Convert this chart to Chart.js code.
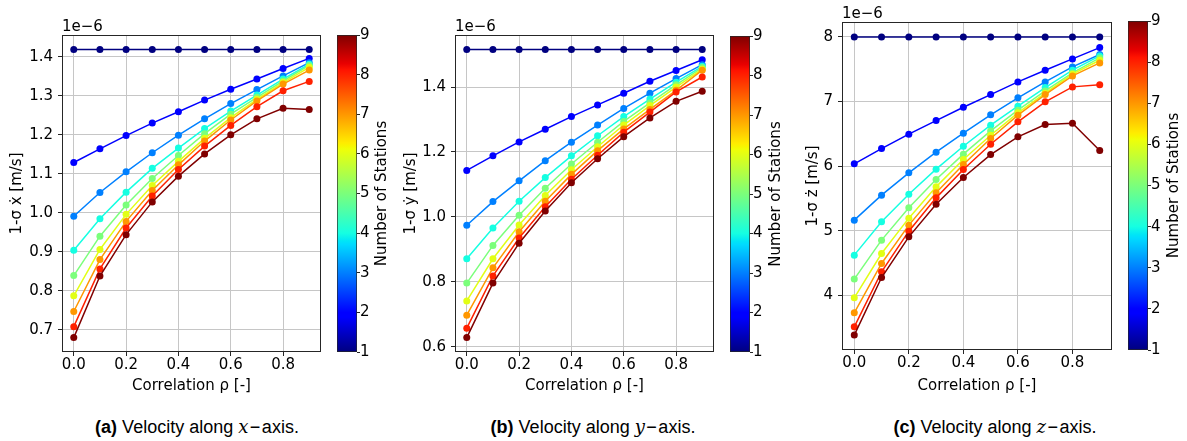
<!DOCTYPE html>
<html>
<head>
<meta charset="utf-8">
<title>1-sigma velocity vs correlation</title>
<script src="https://cdn.jsdelivr.net/npm/chart.js@4.4.1/dist/chart.umd.min.js"></script>
<style>
    html, body { margin: 0; padding: 0; background: #fff; }
    #page { position: relative; width: 1187px; height: 441px; overflow: hidden; }
    #page canvas { position: absolute; top: 0; }
    .caption {
        position: absolute;
        top: 416px;
        transform: translateX(-50%);
        white-space: nowrap;
        font-family: 'Liberation Sans', Arial, sans-serif;
        font-size: 18px;
        color: #000;
    }
    .caption .m { font-family: 'DejaVu Serif', 'Liberation Serif', serif; font-style: italic; }
</style>
</head>
<body>
<div id="page">
    <canvas id="chartX" width="330" height="400" style="left:0px"></canvas>
    <canvas id="barX" width="65" height="400" style="left:330px"></canvas>
    <canvas id="chartY" width="325" height="400" style="left:395px"></canvas>
    <canvas id="barY" width="65" height="400" style="left:720px"></canvas>
    <canvas id="chartZ" width="330" height="400" style="left:790px"></canvas>
    <canvas id="barZ" width="67" height="400" style="left:1120px"></canvas>

    <div class="caption" style="left:197px"><b>(a)</b> Velocity along <span class="m">x</span>&#8202;&minus;&#8202;axis.</div>
    <div class="caption" style="left:593px"><b>(b)</b> Velocity along <span class="m">y</span>&#8202;&minus;&#8202;axis.</div>
    <div class="caption" style="left:995px"><b>(c)</b> Velocity along <span class="m">z</span>&#8202;&minus;&#8202;axis.</div>
</div>

<script>
// Correlation coefficient rho on the x axis
const rho = [0.0, 0.1, 0.2, 0.3, 0.4, 0.5, 0.6, 0.7, 0.8, 0.9];
const rhoTicks = [0.0, 0.2, 0.4, 0.6, 0.8];

// Number of stations (one line each, coloured on the colorbar)
const stations = [1, 2, 3, 4, 5, 6, 7, 8, 9];
const stationTicks = [1, 2, 3, 4, 5, 6, 7, 8, 9];

// Values below are in units of 1e-6 m/s
const offsetLabel = '1e\u22126';

// 1-sigma of x velocity, one row per number of stations
const sigmaVx = [
    [1.419, 1.419, 1.419, 1.419, 1.419, 1.419, 1.419, 1.419, 1.419, 1.419],
    [1.129, 1.164, 1.198, 1.230, 1.259, 1.289, 1.317, 1.343, 1.370, 1.396],
    [0.991, 1.052, 1.105, 1.154, 1.199, 1.241, 1.280, 1.316, 1.351, 1.385],
    [0.904, 0.985, 1.053, 1.114, 1.166, 1.216, 1.261, 1.302, 1.343, 1.381],
    [0.839, 0.940, 1.020, 1.088, 1.147, 1.203, 1.253, 1.296, 1.338, 1.378],
    [0.787, 0.906, 0.996, 1.070, 1.132, 1.191, 1.244, 1.291, 1.334, 1.373],
    [0.747, 0.880, 0.978, 1.057, 1.123, 1.184, 1.238, 1.287, 1.330, 1.366],
    [0.708, 0.856, 0.961, 1.043, 1.111, 1.171, 1.224, 1.272, 1.313, 1.337],
    [0.680, 0.838, 0.944, 1.028, 1.094, 1.151, 1.200, 1.241, 1.268, 1.265]
];
const vxTicks = [0.7, 0.8, 0.9, 1.0, 1.1, 1.2, 1.3, 1.4];

// 1-sigma of y velocity
const sigmaVy = [
    [1.516, 1.516, 1.516, 1.516, 1.516, 1.516, 1.516, 1.516, 1.516, 1.516],
    [1.143, 1.188, 1.231, 1.270, 1.309, 1.345, 1.381, 1.418, 1.451, 1.484],
    [0.974, 1.047, 1.111, 1.173, 1.230, 1.283, 1.334, 1.381, 1.426, 1.469],
    [0.871, 0.966, 1.048, 1.121, 1.188, 1.250, 1.309, 1.363, 1.415, 1.464],
    [0.796, 0.912, 1.005, 1.088, 1.163, 1.230, 1.294, 1.351, 1.407, 1.460],
    [0.741, 0.871, 0.975, 1.066, 1.145, 1.216, 1.283, 1.343, 1.400, 1.455],
    [0.697, 0.843, 0.954, 1.048, 1.131, 1.204, 1.271, 1.331, 1.390, 1.452],
    [0.657, 0.818, 0.935, 1.031, 1.116, 1.190, 1.261, 1.323, 1.385, 1.431],
    [0.628, 0.796, 0.919, 1.018, 1.105, 1.179, 1.247, 1.305, 1.356, 1.387]
];
const vyTicks = [0.6, 0.8, 1.0, 1.2, 1.4];

// 1-sigma of z velocity
const sigmaVz = [
    [8.000, 8.000, 8.000, 8.000, 8.000, 8.000, 8.000, 8.000, 8.000, 8.000],
    [6.036, 6.273, 6.495, 6.706, 6.912, 7.108, 7.304, 7.485, 7.660, 7.835],
    [5.165, 5.552, 5.897, 6.216, 6.510, 6.794, 7.057, 7.304, 7.536, 7.727],
    [4.624, 5.139, 5.567, 5.954, 6.309, 6.634, 6.928, 7.216, 7.485, 7.706],
    [4.253, 4.856, 5.356, 5.794, 6.186, 6.546, 6.866, 7.165, 7.443, 7.675],
    [3.964, 4.649, 5.196, 5.680, 6.103, 6.479, 6.825, 7.129, 7.423, 7.639],
    [3.732, 4.495, 5.088, 5.588, 6.026, 6.428, 6.789, 7.108, 7.397, 7.598],
    [3.515, 4.366, 4.995, 5.510, 5.948, 6.340, 6.686, 6.995, 7.227, 7.258],
    [3.387, 4.278, 4.907, 5.412, 5.825, 6.180, 6.454, 6.644, 6.665, 6.242]
];
const vzTicks = [4, 5, 6, 7, 8];

(function() {
    'use strict';

    const FONT = "'DejaVu Sans', sans-serif";
    const TEXT = '#000';
    const GRID = '#c6c6c6';
    const SPINE = '#262626';

    // Pixel layout of each panel (plot box and colorbar box, page coords)
    const panels = [
        {
            chartId: 'chartX', barId: 'barX', left: 0, barLeft: 330,
            series: sigmaVx, yTicks: vxTicks, decimals: 1, yTitle: '1-\u03c3 \u1e8b [m/s]',
            area: { left: 62, top: 35, right: 321, bottom: 352 }, yTitleX: 17.5,
            bar: { left: 337, right: 357, top: 35, bottom: 352 }, barTitleX: 382
        },
        {
            chartId: 'chartY', barId: 'barY', left: 395, barLeft: 720,
            series: sigmaVy, yTicks: vyTicks, decimals: 1, yTitle: '1-\u03c3 \u1e8f [m/s]',
            area: { left: 455, top: 35, right: 714, bottom: 352 }, yTitleX: 411.5,
            bar: { left: 730, right: 750, top: 36, bottom: 352 }, barTitleX: 776
        },
        {
            chartId: 'chartZ', barId: 'barZ', left: 790, barLeft: 1120,
            series: sigmaVz, yTicks: vzTicks, decimals: 0, yTitle: '1-\u03c3 \u017c [m/s]',
            area: { left: 842, top: 22, right: 1112, bottom: 350 }, yTitleX: 813,
            bar: { left: 1128, right: 1148, top: 21, bottom: 350 }, barTitleX: 1174
        }
    ];

    document.addEventListener('DOMContentLoaded', function() {
        panels.forEach(function(p) {
            createPanelChart(p);
            createColorbar(p);
        });
    });

    /**
     * Matplotlib "jet" colormap, t in [0, 1]
     */
    function jetRgb(t) {
        const interp = function(pts) {
            for (let i = 1; i < pts.length; i++) {
                if (t <= pts[i][0]) {
                    const f = (t - pts[i - 1][0]) / (pts[i][0] - pts[i - 1][0]);
                    return pts[i - 1][1] + f * (pts[i][1] - pts[i - 1][1]);
                }
            }
            return pts[pts.length - 1][1];
        };
        const r = interp([[0, 0], [0.35, 0], [0.66, 1], [0.89, 1], [1, 0.5]]);
        const g = interp([[0, 0], [0.125, 0], [0.375, 1], [0.64, 1], [0.91, 0], [1, 0]]);
        const b = interp([[0, 0.5], [0.11, 1], [0.34, 1], [0.65, 0], [1, 0]]);
        return 'rgb(' + Math.round(r * 255) + ',' + Math.round(g * 255) + ',' + Math.round(b * 255) + ')';
    }

    function stationColor(n) {
        const lo = stationTicks[0];
        const hi = stationTicks[stationTicks.length - 1];
        return jetRgb((n - lo) / (hi - lo));
    }

    /**
     * Axis limits with a 5% margin, like matplotlib's autoscale
     */
    function paddedRange(values) {
        const lo = Math.min.apply(null, values);
        const hi = Math.max.apply(null, values);
        const pad = (hi - lo) * 0.05;
        return { min: lo - pad, max: hi + pad };
    }

    // Draws the four spines round the plot box
    const frame = {
        id: 'frame',
        afterDatasetsDraw: function(chart) {
            const a = chart.chartArea;
            const ctx = chart.ctx;
            ctx.save();
            ctx.strokeStyle = SPINE;
            ctx.lineWidth = 1;
            ctx.strokeRect(Math.round(a.left) + 0.5, Math.round(a.top) + 0.5,
                Math.round(a.right - a.left) - 1, Math.round(a.bottom - a.top) - 1);
            ctx.restore();
        }
    };

    /**
     * Initialize one line panel
     */
    function createPanelChart(p) {
        const canvas = document.getElementById(p.chartId);
        const W = canvas.width;
        const H = canvas.height;
        const a = p.area;
        const xr = paddedRange(rho);
        const yr = paddedRange([].concat.apply([], p.series));

        const datasets = p.series.map(function(row, i) {
            const color = stationColor(stations[i]);
            return {
                label: stations[i] + ' stations',
                data: row.map(function(v, j) { return { x: rho[j], y: v }; }),
                borderColor: color,
                backgroundColor: color,
                pointBackgroundColor: color,
                pointBorderColor: color,
                borderWidth: 1.5,
                pointRadius: 3.5,
                pointBorderWidth: 0,
                tension: 0,
                // later stations drawn on top, as in the original plot
                order: stations.length - i
            };
        });

        return new Chart(canvas, {
            type: 'line',
            data: { datasets: datasets },
            options: {
                responsive: false,
                animation: false,
                devicePixelRatio: 1,
                events: [],
                layout: {
                    padding: { left: 0, top: a.top - 15, right: W - (a.right - p.left), bottom: 0 }
                },
                plugins: {
                    legend: { display: false },
                    tooltip: { enabled: false },
                    title: {
                        display: true,
                        text: offsetLabel,
                        align: 'start',
                        fullSize: false,
                        color: TEXT,
                        font: { family: FONT, size: 15, weight: 'normal', lineHeight: 1 },
                        padding: 0
                    }
                },
                scales: {
                    x: {
                        type: 'linear',
                        min: xr.min,
                        max: xr.max,
                        afterBuildTicks: function(s) {
                            s.ticks = rhoTicks.map(function(v) { return { value: v }; });
                        },
                        afterFit: function(s) { s.height = H - a.bottom; },
                        grid: { color: GRID, lineWidth: 1, tickColor: SPINE, tickLength: 4 },
                        border: { display: false },
                        ticks: {
                            color: TEXT,
                            font: { family: FONT, size: 15 },
                            padding: 0,
                            maxRotation: 0,
                            callback: function(v) { return Number(v).toFixed(1); }
                        },
                        title: {
                            display: true,
                            text: 'Correlation \u03c1 [-]',
                            color: TEXT,
                            font: { family: FONT, size: 15, lineHeight: 1.2 },
                            padding: { top: 0, bottom: 5 }
                        }
                    },
                    y: {
                        type: 'linear',
                        min: yr.min,
                        max: yr.max,
                        afterBuildTicks: function(s) {
                            s.ticks = p.yTicks.map(function(v) { return { value: v }; });
                        },
                        afterFit: function(s) { s.width = a.left - p.left; },
                        grid: { color: GRID, lineWidth: 1, tickColor: SPINE, tickLength: 4 },
                        border: { display: false },
                        ticks: {
                            color: TEXT,
                            font: { family: FONT, size: 15 },
                            padding: 5,
                            callback: function(v) { return Number(v).toFixed(p.decimals); }
                        },
                        title: {
                            display: true,
                            text: p.yTitle,
                            color: TEXT,
                            font: { family: FONT, size: 15, lineHeight: 1.2 },
                            padding: { top: p.yTitleX - p.left - 9, bottom: 0 }
                        }
                    }
                }
            },
            plugins: [frame]
        });
    }

    /**
     * Initialize the colorbar next to a panel (a single floating bar with a jet gradient)
     */
    function createColorbar(p) {
        const canvas = document.getElementById(p.barId);
        const W = canvas.width;
        const H = canvas.height;
        const b = p.bar;
        const lo = stationTicks[0];
        const hi = stationTicks[stationTicks.length - 1];

        const barTitle = {
            id: 'barTitle',
            afterDraw: function(chart) {
                const area = chart.chartArea;
                const ctx = chart.ctx;
                ctx.save();
                ctx.translate(p.barTitleX - p.barLeft, (area.top + area.bottom) / 2);
                ctx.rotate(-Math.PI / 2);
                ctx.font = '15px ' + FONT;
                ctx.fillStyle = TEXT;
                ctx.textAlign = 'center';
                ctx.textBaseline = 'middle';
                ctx.fillText('Number of Stations', 0, 0);
                ctx.restore();
            }
        };

        function jetGradient(context) {
            const area = context.chart.chartArea;
            if (!area) return stationColor(lo);
            const grad = context.chart.ctx.createLinearGradient(0, area.bottom, 0, area.top);
            [0, 0.11, 0.125, 0.34, 0.35, 0.375, 0.5, 0.64, 0.65, 0.66, 0.89, 0.91, 1].forEach(function(t) {
                grad.addColorStop(t, jetRgb(t));
            });
            return grad;
        }

        return new Chart(canvas, {
            type: 'bar',
            data: {
                labels: [''],
                datasets: [{
                    data: [[lo, hi]],
                    backgroundColor: jetGradient,
                    borderColor: SPINE,
                    borderWidth: 1,
                    borderSkipped: false,
                    barPercentage: 1,
                    categoryPercentage: 1
                }]
            },
            options: {
                responsive: false,
                animation: false,
                devicePixelRatio: 1,
                events: [],
                layout: {
                    padding: { left: b.left - p.barLeft, top: b.top, right: 0, bottom: H - b.bottom }
                },
                plugins: { legend: { display: false }, tooltip: { enabled: false } },
                scales: {
                    x: { display: false },
                    y: {
                        position: 'right',
                        min: lo,
                        max: hi,
                        afterBuildTicks: function(s) {
                            s.ticks = stationTicks.map(function(v) { return { value: v }; });
                        },
                        afterFit: function(s) { s.width = W - (b.right - p.barLeft); },
                        grid: { drawOnChartArea: false, tickColor: SPINE, tickLength: 3 },
                        border: { display: false },
                        ticks: {
                            color: TEXT,
                            font: { family: FONT, size: 15 },
                            padding: 0
                        }
                    }
                }
            },
            plugins: [barTitle]
        });
    }
})();
</script>
</body>
</html>
